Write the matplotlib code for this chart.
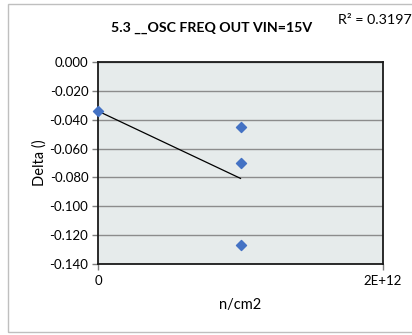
import matplotlib
matplotlib.use("Agg")
import matplotlib.pyplot as plt
from matplotlib.patches import Rectangle
from matplotlib.ticker import FixedLocator
import numpy as np

plt.rcParams['font.family'] = ['Lato', 'DejaVu Sans']

x_vals = [0, 1e12, 1e12, 1e12]
y_vals = [-0.034, -0.045, -0.070, -0.127]
title = "5.3 __OSC FREQ OUT VIN=15V"
r2_text = "R² = 0.3197"
y_ticks = [0.0, -0.02, -0.04, -0.06, -0.08, -0.10, -0.12, -0.14]
x_ticks = [0, 2e12]
x_tick_labels = ["0", "2E+12"]

fig = plt.figure(figsize=(4.12, 3.35), dpi=100)
W, H = 412, 335
fig.patches.append(Rectangle((8/W, 1-332/H), (413-8)/W, (332-4)/H,
                             transform=fig.transFigure, fill=False,
                             edgecolor='#bfbfbf', linewidth=1.0))

ax = fig.add_axes([98/W, 1-264/H, (383-98)/W, (264-62)/H])
ax.set_facecolor('#e6ebeb')
ax.set_xlim(0, 2e12)
ax.set_ylim(-0.14, 0.0)
ax.yaxis.set_major_locator(FixedLocator(y_ticks))
ax.set_yticklabels([f"{v:.3f}" if v != 0 else "0.000" for v in y_ticks])
ax.set_xticks(x_ticks)
ax.set_xticklabels(x_tick_labels)
ax.grid(axis='y', color='#8c8c8c', linewidth=1.0)
ax.set_axisbelow(True)
for s in ax.spines.values():
    s.set_color('#1a1a1a')
    s.set_linewidth(1.3)
ax.tick_params(axis='both', labelsize=9.5, length=4, width=1, color='#7f7f7f', direction='out')
ax.tick_params(axis='y', pad=3)
ax.tick_params(axis='x', pad=4)

ax.scatter(x_vals, y_vals, marker='D', s=26, color='#4472c4', zorder=3, clip_on=False)
xa = np.array(x_vals); ya = np.array(y_vals)
m, b = np.polyfit(xa, ya, 1)
xs = np.array([xa.min(), xa.max()])
ax.plot(xs, m*xs + b, color='black', linewidth=0.9, zorder=2)

ax.set_xlabel("n/cm2", fontsize=10.5)
ax.set_ylabel("Delta ()", fontsize=10.5)
ax.xaxis.set_label_coords(0.5, 1 - (305-62)/(264-62), transform=ax.transAxes)
ax.xaxis.label.set_va('center')
ax.yaxis.set_label_coords((40-98)/(383-98), 0.5, transform=ax.transAxes)
ax.yaxis.label.set_va('center')
fig.text(212/W, 1-28/H, title, ha='center', va='center', fontsize=10.2, fontweight='bold')
fig.text(375/W, 1-20/H, r2_text, ha='center', va='center', fontsize=10.3)

fig.savefig("out.png", dpi=100)
